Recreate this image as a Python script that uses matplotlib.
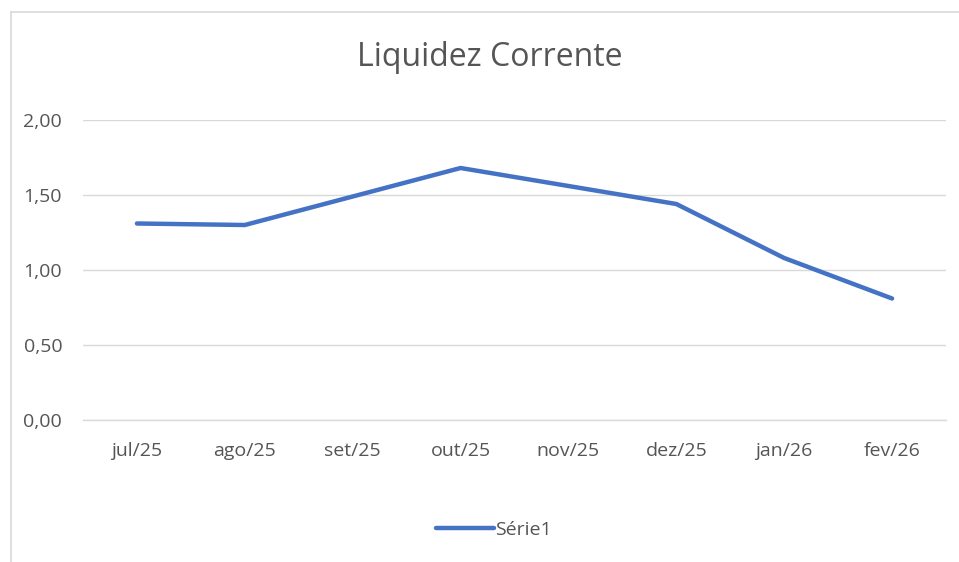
import matplotlib
matplotlib.use('Agg')
import matplotlib.pyplot as plt
from matplotlib.lines import Line2D

# Chart data
months = ['jul/25', 'ago/25', 'set/25', 'out/25', 'nov/25', 'dez/25', 'jan/26', 'fev/26']
liquidez = [1.31, 1.30, 1.49, 1.68, 1.56, 1.44, 1.08, 0.81]
yticks = [0.0, 0.5, 1.0, 1.5, 2.0]
ytick_labels = ['0,00', '0,50', '1,00', '1,50', '2,00']

plt.rcParams['font.family'] = ['Open Sans', 'DejaVu Sans']
text_color = '#555555'
grid_color = '#d9d9d9'

fig = plt.figure(figsize=(9.59, 5.62), dpi=100)
ax = fig.add_axes([83/959, 1 - 420/562, 863/959, 300/562])

x = range(len(months))
ax.plot(x, liquidez, color='#4472c4', linewidth=3.2, solid_capstyle='round',
        solid_joinstyle='round', label='Série1', zorder=3)

ax.set_xlim(-0.5, len(months) - 0.5)
ax.set_ylim(0, 2)
ax.set_yticks(yticks)
ax.set_yticklabels(ytick_labels)
ax.set_xticks(list(x))
ax.set_xticklabels(months)

ax.grid(True, axis='y', color=grid_color, linewidth=1.0)
ax.set_axisbelow(True)
for side in ['top', 'right', 'left']:
    ax.spines[side].set_visible(False)
ax.spines['bottom'].set_color(grid_color)
ax.spines['bottom'].set_linewidth(1.0)
ax.tick_params(axis='both', length=0, labelsize=14, labelcolor=text_color)
ax.tick_params(axis='y', pad=15)
ax.tick_params(axis='x', pad=16)

fig.text(490/959, 1 - 58/562, 'Liquidez Corrente', ha='center', va='center',
         fontsize=23, color=text_color)

fig.legend(loc='center', bbox_to_anchor=(494/959, 1 - 530/562), frameon=False,
           fontsize=14, labelcolor=text_color, handlelength=3.0, handletextpad=0.05)

# chart area border
fig.add_artist(Line2D([11/959, 1], [1 - 12/562, 1 - 12/562], color='#d9d9d9', linewidth=1.2))
fig.add_artist(Line2D([11/959, 11/959], [0, 1 - 12/562], color='#d9d9d9', linewidth=1.2))

fig.savefig('out.png', dpi=100, facecolor='white')
